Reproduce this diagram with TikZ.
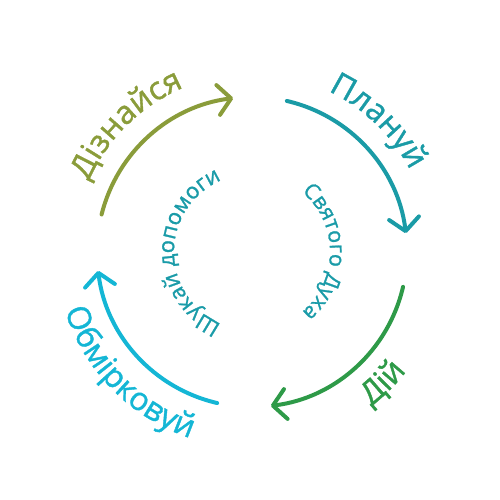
\documentclass[tikz,border=0pt]{standalone}
\usepackage{fontspec}
\setmainfont{Open Sans}
\newfontfamily\labelfont{Open Sans}[FakeBold=1.2]
\usetikzlibrary{arrows.meta,decorations.text}
\definecolor{cOlive}{HTML}{8A9C3A}
\definecolor{cTeal}{HTML}{1A9BA6}
\definecolor{cGreen}{HTML}{2E9A48}
\definecolor{cCyan}{HTML}{14B6D5}
\definecolor{cInner}{HTML}{1A9BA8}
\begin{document}
\begin{tikzpicture}[x=1pt,y=1pt,
  arcline/.style={line width=4pt, line cap=round,
    -{Straight Barb[length=13pt,width=30pt,line cap=round,line join=round]}},
  curvetext/.style={decorate, decoration={text along path, text align=center, text={#1}}}]
\useasboundingbox (-252,-248) rectangle (248,252);
\coordinate (O) at (0,0);
% arcs
\draw[arcline, cOlive] (O) ++(166:155) arc[start angle=166, end angle=97, radius=155];
\draw[arcline, cTeal] (O) ++(77:155) arc[start angle=77, end angle=7, radius=155];
\draw[arcline, cGreen] (O) ++(-13:155) arc[start angle=-13, end angle=-83, radius=155];
\draw[arcline, cCyan] (O) ++(-103:155) arc[start angle=-103, end angle=-173, radius=155];
% outer texts
\path[curvetext={|\labelfont\fontsize{32}{32}\selectfont\color{cOlive}|Дізнайся}] (O) ++(174.5:178) arc[start angle=174.5, end angle=94.5, radius=178];
\path[curvetext={|\labelfont\fontsize{32}{32}\selectfont\color{cTeal}|Плануй}] (O) ++(86:178) arc[start angle=86, end angle=6, radius=178];
\path[curvetext={|\labelfont\fontsize{32}{32}\selectfont\color{cGreen}|Дій}] (O) ++(-85:195) arc[start angle=-85, end angle=-5, radius=195];
\path[curvetext={|\labelfont\fontsize{32}{32}\selectfont\color{cCyan}|Обмірковуй}] (O) ++(-175.5:196) arc[start angle=-175.5, end angle=-95.5, radius=196];
% inner texts
\path[curvetext={|\labelfont\fontsize{22}{22}\selectfont\color{cInner}|Шукай допомоги}] (O) ++(265:78) arc[start angle=265, end angle=95, radius=78];
\path[curvetext={|\labelfont\fontsize{21.5}{21.5}\selectfont\color{cInner}|Святого Духа}] (O) ++(80:78) arc[start angle=80, end angle=-80, radius=78];
\end{tikzpicture}
\end{document}
